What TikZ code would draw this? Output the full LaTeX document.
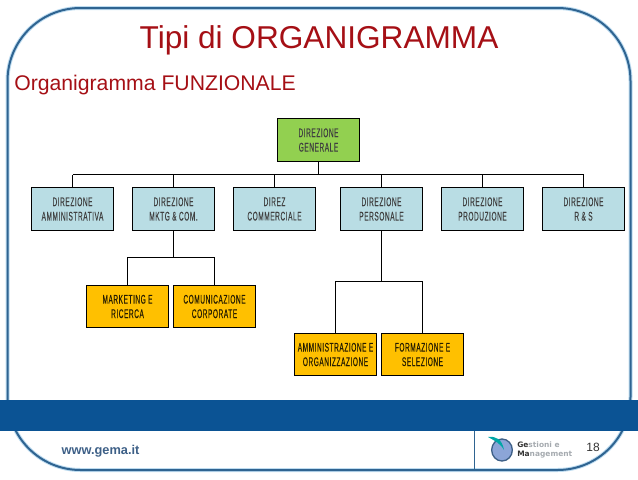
\documentclass[tikz,border=0pt]{standalone}
\usepackage{fontspec}
\setmainfont{Liberation Sans}
\newfontfamily\boxfont[FakeStretch=0.52,LetterSpace=4.5,FakeBold=0.15]{Liberation Sans}
\newfontfamily\logofont{DejaVu Sans}
\usetikzlibrary{positioning,shapes.geometric}
\definecolor{FrameBlue}{RGB}{47,100,145}
\definecolor{FrameGlow}{RGB}{190,220,240}
\definecolor{BandBlue}{RGB}{11,83,148}
\definecolor{TitleRed}{RGB}{165,15,21}
\definecolor{HeadGreen}{RGB}{146,208,80}
\definecolor{DirBlue}{RGB}{185,221,228}
\definecolor{UnitOrange}{RGB}{255,192,0}
\definecolor{WebBlue}{RGB}{62,96,135}
\definecolor{LogoGrey}{RGB}{165,170,175}
\definecolor{LogoBlue}{RGB}{140,165,215}
\tikzset{
  orgbox/.style={draw=black,line width=0.75pt,outer sep=0pt,inner sep=0pt,
    minimum width=61.5pt,minimum height=32pt,align=center,
    font=\boxfont\fontsize{9.4}{10.8}\selectfont,text=black!75},
  headbox/.style={orgbox,fill=HeadGreen},
  dirbox/.style={orgbox,fill=DirBlue},
  unitbox/.style={orgbox,fill=UnitOrange,text=black!85!UnitOrange},
  link/.style={draw=black,line width=0.75pt},
  frame/.style={draw=FrameBlue,line width=1.5pt,rounded corners=54.75pt}
}
\begin{document}
\begin{tikzpicture}[x=0.75pt,y=-0.75pt,node distance=14.25pt]
  \useasboundingbox (0,0) rectangle (638,479);
  % frame and band
  \draw[frame,FrameGlow,line width=3pt] (7.5,8) rectangle (630.5,470);
  \draw[frame] (7.5,8) rectangle (630.5,470);
  \fill[BandBlue] (0,399.5) rectangle (638,431);
  \coordinate (divtop) at (474.5,431);
  \coordinate (divbot) at (474.5,470);
  \draw[FrameBlue,line width=1pt] (divtop) -- (divbot);
  % titles
  \node[text=TitleRed,font=\fontsize{23.7}{28}\selectfont] (title) at (319,40) {Tipi di ORGANIGRAMMA};
  \node[text=TitleRed,font=\fontsize{15.9}{19}\selectfont,anchor=west,inner sep=0pt] (subtitle) at (14,85) {Organigramma FUNZIONALE};
  % boxes
  \node[headbox] (generale) at (318.5,140) {DIREZIONE\\GENERALE};
  \node[dirbox] (amm) at (72.5,209) {DIREZIONE\\AMMINISTRATIVA};
  \node[dirbox,right=of amm] (mktg) {DIREZIONE\\MKTG \& COM.};
  \node[dirbox,right=of mktg] (comm) {DIREZ\\COMMERCIALE};
  \node[dirbox,right=18.75pt of comm] (pers) {DIREZIONE\\PERSONALE};
  \node[dirbox,right=of pers] (prod) {DIREZIONE\\PRODUZIONE};
  \node[dirbox,right=of prod] (rgs) {DIREZIONE\\R \& S};
  \node[unitbox] (mark) at (127.5,306.5) {MARKETING E\\RICERCA};
  \node[unitbox,right=3.75pt of mark] (corp) {COMUNICAZIONE\\CORPORATE};
  \node[unitbox] (org) at (335.5,354.5) {AMMINISTRAZIONE E\\ORGANIZZAZIONE};
  \node[unitbox,right=3.75pt of org] (form) {FORMAZIONE E\\SELEZIONE};
  % connectors
  \coordinate (busdir) at (0,174.5);
  \coordinate (busmktg) at (0,257.5);
  \coordinate (buspers) at (0,281.5);
  \draw[link] (generale.south) -- (generale.south |- busdir);
  \draw[link] (amm.north |- busdir) -- (rgs.north |- busdir);
  \foreach \n in {amm,mktg,comm,pers,prod,rgs}
    \draw[link] (\n.north) -- (\n.north |- busdir);
  \draw[link] (mktg.south) -- (mktg.south |- busmktg);
  \draw[link] (mark.north) |- (busmktg -| corp.north) -- (corp.north);
  \draw[link] (pers.south) -- (pers.south |- buspers);
  \draw[link] (org.north) |- (buspers -| form.north) -- (form.north);
  % footer
  \node[text=WebBlue,font=\bfseries\fontsize{9.6}{12}\selectfont,inner sep=0pt] (web) at (100.5,451) {www.gema.it};
  \node[font=\fontsize{9}{11}\selectfont,text=black!80,inner sep=0pt] (num) at (593,447) {18};
  \node[ellipse,draw=WebBlue,line width=1pt,fill=LogoBlue,minimum width=15.5pt,minimum height=16.5pt,inner sep=0pt] (apple) at (502,450) {};
  \fill[teal!70!cyan] (488,437) .. controls (496,436) and (502,439) .. (504,450) .. controls (500,443) and (495,441) .. (488,437);
  \node[font=\logofont\bfseries\fontsize{5.6}{6.2}\selectfont,align=left,anchor=west,inner sep=0pt,text=LogoGrey] (brand) at (517,450) {\textcolor{black!80}{Ge}stioni e\\\textcolor{black!80}{Ma}nagement};
\end{tikzpicture}
\end{document}
